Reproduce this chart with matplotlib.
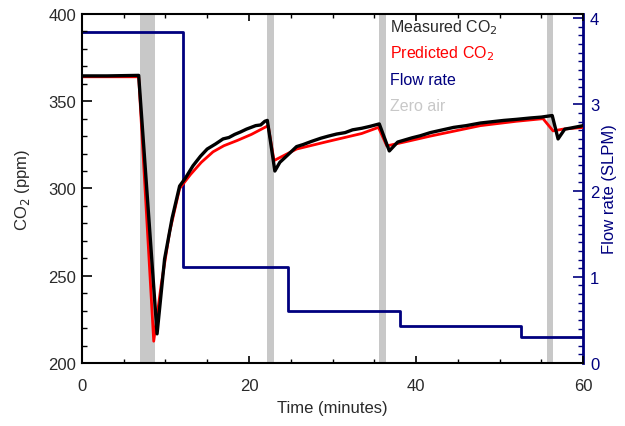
import matplotlib.pyplot as plt
from matplotlib.ticker import MultipleLocator

plt.rcParams['font.family'] = ['Liberation Sans', 'DejaVu Sans']
plt.rcParams['font.size'] = 12

# measured CO2 (ppm) vs time (minutes)
t_meas = [0, 3.0, 6.8, 9.0, 9.9, 10.8, 11.7, 12.4, 13.3, 14.2, 15.0, 16.0, 16.9,
          17.6, 18.3, 19.0, 19.7, 20.8, 21.4, 21.9, 22.2, 23.1, 23.7, 24.6, 25.7,
          26.5, 27.5, 28.6, 29.5, 30.5, 31.5, 32.4, 33.5, 34.5, 35.6, 36.8, 37.8,
          39.5, 40.5, 41.7, 43.0, 44.5, 46.0, 47.7, 49.0, 50.5, 52.0, 53.7, 55.0,
          56.3, 57.0, 57.8, 58.5, 60]
co2_meas = [364.5, 364.5, 364.8, 216.7, 259.6, 283.0, 301.4, 306.0, 313.0, 318.5, 322.6, 325.5, 328.4,
            329.2, 331.0, 332.4, 334.0, 336.0, 336.4, 338.5, 339.0, 310.0, 315.0, 319.0, 324.0,
            325.2, 327.0, 328.8, 330.0, 331.2, 332.0, 333.6, 334.5, 335.6, 337.0, 321.5, 326.6,
            329.0, 330.2, 332.0, 333.4, 335.0, 336.0, 337.5, 338.2, 339.0, 339.6, 340.4, 340.9,
            341.8, 328.4, 334.0, 334.6, 336.0]

# predicted CO2 (ppm)
t_pred = [0, 6.8, 8.6, 9.5, 10.5, 11.7, 13.0, 14.3, 15.7, 17.0, 18.6, 20.3, 21.9, 22.3,
          23.0, 25.7, 29.5, 33.5, 35.5, 36.5, 38.5, 41.7, 47.7, 52.0, 55.2, 56.4, 57.6, 60]
co2_pred = [364.0, 364.0, 212.5, 245.0, 275.0, 300.0, 308.0, 315.0, 321.0, 324.5, 327.5, 331.0, 335.0, 336.0,
            316.0, 322.6, 327.0, 331.5, 335.0, 324.4, 326.5, 330.0, 336.0, 338.5, 340.0, 333.0, 334.0, 335.0]

# flow rate (SLPM), step changes
t_flow = [0, 12.1, 24.7, 38.1, 52.6, 60]
flow = [3.84, 1.11, 0.60, 0.43, 0.30, 0.30]

# zero air periods (start, end) in minutes
zero_air = [(6.9, 8.7), (22.2, 23.0), (35.6, 36.4), (55.7, 56.4)]

navy = '#00007f'
grey = '#c8c8c8'
txt = '#2a2a2a'

fig = plt.figure(figsize=(6.25, 4.27), dpi=100)
ax = fig.add_axes([0.131, 0.1475, 0.802, 0.8175])
ax2 = ax.twinx()
ax.set_zorder(ax2.get_zorder() + 1)
ax.patch.set_visible(False)

for a, b in zero_air:
    ax2.axvspan(a, b, color=grey, lw=0, zorder=1)
ax2.plot(t_flow, flow, drawstyle='steps-post', color=navy, lw=2, zorder=2)

ax.plot(t_pred, co2_pred, color='red', lw=2)
ax.plot(t_meas, co2_meas, color='black', lw=2.4)

ax.set_xlim(0, 60)
ax.set_ylim(200, 400)
ax2.set_ylim(0, 4.05)

ax.xaxis.set_major_locator(MultipleLocator(20))
ax.xaxis.set_minor_locator(MultipleLocator(5))
ax.yaxis.set_major_locator(MultipleLocator(50))
ax.yaxis.set_minor_locator(MultipleLocator(10))
ax2.yaxis.set_major_locator(MultipleLocator(1))
ax2.yaxis.set_minor_locator(MultipleLocator(0.1))

ax.tick_params(axis='x', which='both', direction='in', top=True, pad=11, labelcolor=txt)
ax.tick_params(axis='x', which='major', length=5, width=1.2)
ax.tick_params(axis='x', which='minor', length=3, width=1)
ax.tick_params(axis='y', which='both', direction='in', right=False, pad=4, labelcolor=txt)
ax.tick_params(axis='y', which='major', length=7, width=1.2)
ax.tick_params(axis='y', which='minor', length=3.5, width=1)
ax2.tick_params(axis='y', which='both', direction='in', colors=navy, pad=5)
ax2.tick_params(axis='y', which='major', length=7, width=1.2)
ax2.tick_params(axis='y', which='minor', length=3.5, width=1)

for s in ['left', 'top', 'bottom']:
    ax.spines[s].set_linewidth(1.5)
ax2.spines['right'].set_color(navy)
ax2.spines['right'].set_linewidth(2)
for s in ['left', 'top', 'bottom']:
    ax2.spines[s].set_visible(False)
ax.spines['right'].set_visible(False)

ax.set_xlabel('Time (minutes)', labelpad=5, color=txt)
ax.set_ylabel('CO$_2$ (ppm)', labelpad=12, color=txt)
ax2.set_ylabel('Flow rate (SLPM)', color=navy, labelpad=2)

labels = ['Measured CO$_2$', 'Predicted CO$_2$', 'Flow rate', 'Zero air']
colors = [txt, 'red', navy, grey]
for i, (lab, c) in enumerate(zip(labels, colors)):
    ax.text(0.615, 0.963 - i * 0.075, lab, color=c, fontsize=11.5,
            transform=ax.transAxes, va='center', ha='left')

fig.savefig('out.png', dpi=100)
